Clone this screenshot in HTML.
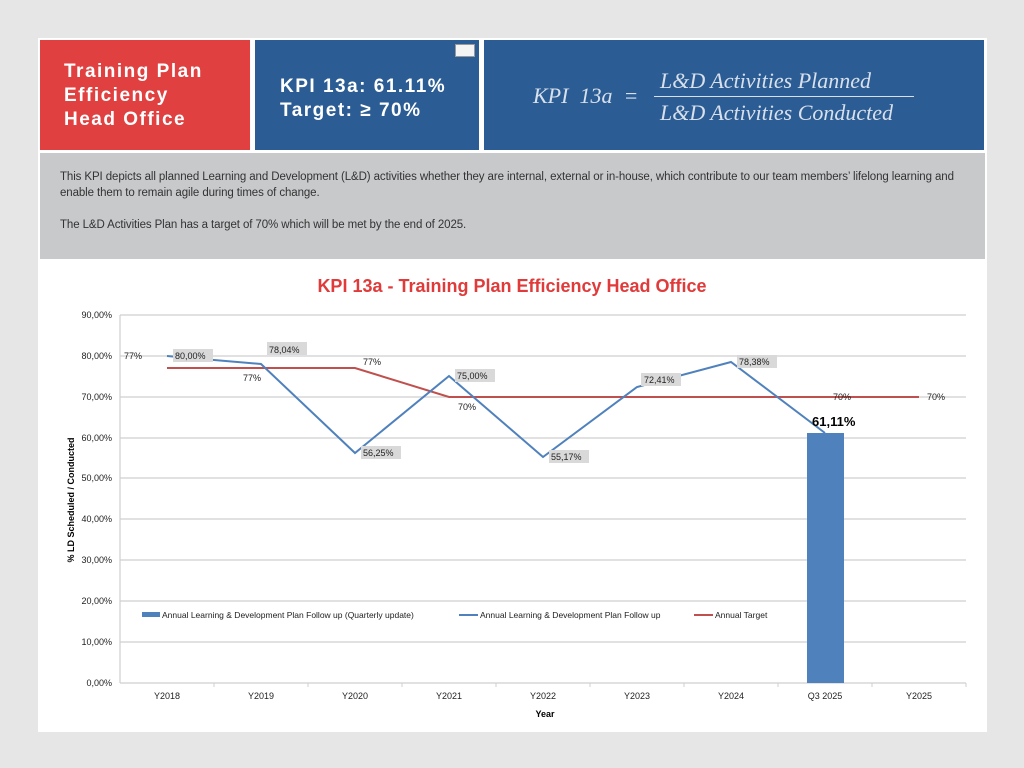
<!DOCTYPE html>
<html><head><meta charset="utf-8"><style>
body{margin:0;width:1024px;height:768px;background:#e6e6e6;font-family:"Liberation Sans",sans-serif;position:relative;overflow:hidden}
.card{position:absolute;left:38px;top:38px;width:949px;height:694px;background:#fff}
.b{position:absolute;color:#fff;font-weight:bold}
</style></head><body>
<div class="card"></div>
<div class="b" style="left:40px;top:40px;width:210px;height:110px;background:#e04040;font-size:19px;letter-spacing:1.5px;line-height:24px;padding:20px 0 0 24px;box-sizing:border-box">Training Plan<br>Efficiency<br>Head Office</div>
<div class="b" style="left:255px;top:40px;width:224px;height:110px;background:#2b5c93;font-size:19px;letter-spacing:1.5px;line-height:24px;padding:35px 0 0 25px;box-sizing:border-box">KPI 13a: 61.11%<br>Target: ≥ 70%</div>
<div style="position:absolute;left:455px;top:44px;width:18px;height:11px;background:#f4f4f4;border:1px solid #999"></div>
<div style="position:absolute;left:484px;top:40px;width:500px;height:110px;background:#2b5c93;color:#d8e0ec;font-family:'Liberation Serif',serif;font-style:italic">
<div style="position:absolute;left:49px;top:43px;font-size:22px">KPI&nbsp; 13a&nbsp; =</div>
<div style="position:absolute;left:176px;top:28px;font-size:22px">L&amp;D Activities Planned</div>
<div style="position:absolute;left:170px;top:56px;width:260px;border-top:1px solid #d8e0ec"></div>
<div style="position:absolute;left:176px;top:60px;font-size:22px">L&amp;D Activities Conducted</div>
</div>
<div style="position:absolute;left:40px;top:153px;width:945px;height:106px;background:#c8c9cb;color:#333;font-size:11.5px;line-height:16px;padding:16px 12px 0 20px;box-sizing:border-box;letter-spacing:-0.1px">This KPI depicts all planned Learning and Development (L&amp;D) activities whether they are internal, external or in-house, which contribute to our team members’ lifelong learning and enable them to remain agile during times of change.<br><br>The L&amp;D Activities Plan has a target of 70% which will be met by the end of 2025.</div>
<svg style="position:absolute;left:0;top:0" width="1024" height="768" font-family="Liberation Sans,sans-serif">
<text x="512" y="292" text-anchor="middle" font-size="18" font-weight="bold" fill="#e03a3a">KPI 13a - Training Plan Efficiency Head Office</text>
<g stroke="#cfcfcf" stroke-width="1.2">
<line x1="120" x2="966" y1="315" y2="315"/><line x1="120" x2="966" y1="356" y2="356"/><line x1="120" x2="966" y1="397" y2="397"/><line x1="120" x2="966" y1="438" y2="438"/><line x1="120" x2="966" y1="478" y2="478"/><line x1="120" x2="966" y1="519" y2="519"/><line x1="120" x2="966" y1="560" y2="560"/><line x1="120" x2="966" y1="601" y2="601"/><line x1="120" x2="966" y1="642" y2="642"/><line x1="120" x2="966" y1="683" y2="683"/>
<line x1="120" x2="120" y1="315" y2="683"/>
</g>
<g stroke="#cfcfcf"><line x1="214" x2="214" y1="683" y2="687"/><line x1="308" x2="308" y1="683" y2="687"/><line x1="402" x2="402" y1="683" y2="687"/><line x1="496" x2="496" y1="683" y2="687"/><line x1="590" x2="590" y1="683" y2="687"/><line x1="684" x2="684" y1="683" y2="687"/><line x1="778" x2="778" y1="683" y2="687"/><line x1="872" x2="872" y1="683" y2="687"/><line x1="966" x2="966" y1="683" y2="687"/></g>
<g font-size="9" fill="#222" text-anchor="end">
<text x="112" y="318">90,00%</text><text x="112" y="359">80,00%</text><text x="112" y="400">70,00%</text><text x="112" y="441">60,00%</text><text x="112" y="481">50,00%</text><text x="112" y="522">40,00%</text><text x="112" y="563">30,00%</text><text x="112" y="604">20,00%</text><text x="112" y="645">10,00%</text><text x="112" y="686">0,00%</text>
</g>
<g font-size="9" fill="#222" text-anchor="middle">
<text x="167" y="699">Y2018</text><text x="261" y="699">Y2019</text><text x="355" y="699">Y2020</text><text x="449" y="699">Y2021</text><text x="543" y="699">Y2022</text><text x="637" y="699">Y2023</text><text x="731" y="699">Y2024</text><text x="825" y="699">Q3 2025</text><text x="919" y="699">Y2025</text>
</g>
<text x="545" y="717" text-anchor="middle" font-size="9" font-weight="bold">Year</text>
<text transform="translate(74,500) rotate(-90)" text-anchor="middle" font-size="9" font-weight="bold">% LD Scheduled / Conducted</text>
<rect x="807" y="433" width="37" height="250" fill="#4f81bd"/>
<polyline fill="none" stroke="#c0504d" stroke-width="2" points="167,368 355,368 449,397 919,397"/>
<polyline fill="none" stroke="#4f81bd" stroke-width="2" points="167,356 261,364 355,453 449,376 543,457 637,387 731,362 825,433"/>
<g fill="#d9d9d9"><rect x="173" y="349" width="40" height="13"/><rect x="267" y="342" width="40" height="13"/><rect x="361" y="446" width="40" height="13"/><rect x="455" y="369" width="40" height="13"/><rect x="549" y="450" width="40" height="13"/><rect x="641" y="373" width="40" height="13"/><rect x="737" y="355" width="40" height="13"/></g>
<g font-size="9" fill="#222">
<text x="175" y="359">80,00%</text><text x="269" y="353">78,04%</text><text x="363" y="456">56,25%</text><text x="457" y="379">75,00%</text><text x="551" y="460">55,17%</text><text x="644" y="383">72,41%</text><text x="739" y="365">78,38%</text>
<text x="124" y="359">77%</text><text x="243" y="381">77%</text><text x="363" y="365">77%</text><text x="458" y="410">70%</text><text x="833" y="400">70%</text><text x="927" y="400">70%</text>
</g>
<text x="812" y="426" font-size="13" font-weight="bold">61,11%</text>
<rect x="142" y="612" width="18" height="5" fill="#4f81bd"/>
<text x="162" y="618" font-size="8.5" fill="#222">Annual Learning &amp; Development Plan Follow up (Quarterly update)</text>
<line x1="459" x2="478" y1="615" y2="615" stroke="#4f81bd" stroke-width="2"/>
<text x="480" y="618" font-size="8.5" fill="#222">Annual Learning &amp; Development Plan Follow up</text>
<line x1="694" x2="713" y1="615" y2="615" stroke="#c0504d" stroke-width="2"/>
<text x="715" y="618" font-size="8.5" fill="#222">Annual Target</text>
</svg>
</body></html>
